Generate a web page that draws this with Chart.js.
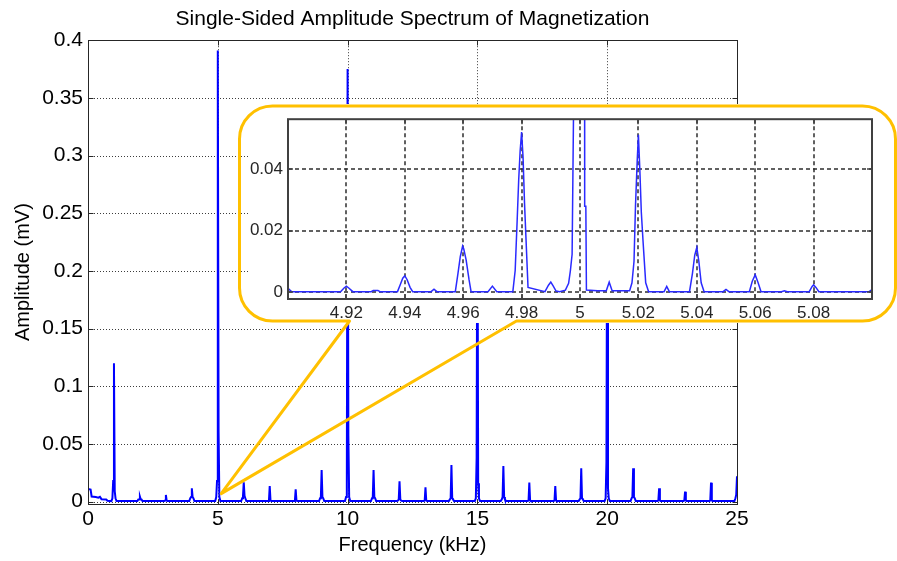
<!DOCTYPE html>
<html><head><meta charset="utf-8">
<script src="https://cdn.jsdelivr.net/npm/chart.js@4/dist/chart.umd.min.js"></script>
<style>
html,body{margin:0;padding:0;background:#fff;}
#wrap{position:relative;width:897px;height:561px;overflow:hidden;}
#main{position:absolute;left:0;top:0;}
#inset{position:absolute;left:240px;top:104px;}
</style></head><body>
<div id="wrap">
<canvas id="main" width="897" height="561"></canvas>
<canvas id="inset" width="657" height="218"></canvas>
</div>
<script>
// ---------- DATA ----------
const TITLE = 'Single-Sided Amplitude Spectrum of Magnetization';
const X_LABEL = 'Frequency (kHz)';
const Y_LABEL = 'Amplitude (mV)';

const xTicks = [0, 5, 10, 15, 20, 25];
const yTicks = [0, 0.05, 0.1, 0.15, 0.2, 0.25, 0.3, 0.35, 0.4];

// low-frequency part of spectrum (kHz, mV)
const lowFreq = [0, 0.1, 0.14, 0.3, 0.4, 0.46, 0.52, 0.7, 0.75, 0.9];
const lowAmp  = [0.011, 0.0105, 0.0045, 0.004, 0.0035, 0.0042, 0.0022, 0.002, 0.0008, 0.0005];

// harmonic peaks (kHz, mV)
const peakFreq  = [1, 2, 3, 4, 5, 6, 7, 8, 9, 10, 11, 12, 13, 14, 15, 16, 17, 18, 19, 20, 21, 22, 23, 24, 25];
const peakAmp   = [0.120, 0.0043, 0.0058, 0.0116, 0.391, 0.0168, 0.0136, 0.0107, 0.0275, 0.375, 0.0275, 0.0177, 0.0125, 0.0318, 0.300, 0.0310, 0.0165, 0.0136, 0.0290, 0.280, 0.0290, 0.0116, 0.0087, 0.0165, 0.0220];
const shoulderL = [0.018, 0.002, 0.001, 0.004, 0.018, 0.005, 0.001, 0.001, 0.004, 0.016, 0.004, 0.002, 0.001, 0.003, 0.038, 0.004, 0.001, 0.001, 0.003, 0.034, 0.004, 0.001, 0.001, 0.001, 0.006];
const shoulderR = [0.009, 0.002, 0.001, 0.004, 0.061, 0.005, 0.001, 0.001, 0.004, 0.057, 0.004, 0.002, 0.001, 0.003, 0.016, 0.004, 0.001, 0.001, 0.003, 0.012, 0.004, 0.001, 0.001, 0.001, 0.017];
const skirt     = [0.003, 0.002, 0.0005, 0.003, 0.004, 0.003, 0.0005, 0.0005, 0.003, 0.004, 0.003, 0.001, 0.0005, 0.002, 0.003, 0.002, 0.0005, 0.0005, 0.002, 0.003, 0.003, 0.0005, 0.0005, 0.0005, 0.003];
const baseLevel = 0.0005;

// zoomed inset around 5 kHz
const insetXTicks = [4.92, 4.94, 4.96, 4.98, 5.00, 5.02, 5.04, 5.06, 5.08];
const insetYTicks = [0, 0.02, 0.04];
const insetFreq = [
  4.9000, 4.9012,
  4.9180, 4.9192, 4.9200, 4.9208, 4.9222,
  4.9285, 4.9292, 4.9308, 4.9315,
  4.9375, 4.9385, 4.9393, 4.9400, 4.9408, 4.9418, 4.9427,
  4.9490, 4.9500, 4.9510,
  4.9573, 4.9582, 4.9590, 4.9598, 4.9602, 4.9610, 4.9620, 4.9627,
  4.9685, 4.9700, 4.9715,
  4.9770, 4.9778, 4.9785, 4.9790, 4.9795, 4.9800, 4.9805, 4.9810, 4.9815, 4.9822,
  4.9880, 4.9892, 4.9900, 4.9908, 4.9918,
  4.9930, 4.9950, 4.9961, 4.9967, 4.9973, 4.9978, 5.0000, 5.0015, 5.0016, 5.0020, 5.0022,
  5.0060, 5.0090, 5.0100, 5.0110,
  5.0170, 5.0178, 5.0185, 5.0190, 5.0196, 5.0200, 5.0205, 5.0210, 5.0216, 5.0225, 5.0235,
  5.0288, 5.0297, 5.0306,
  5.0375, 5.0385, 5.0393, 5.0400, 5.0407, 5.0415, 5.0425,
  5.0490, 5.0500, 5.0510,
  5.0580, 5.0590, 5.0600, 5.0610, 5.0620,
  5.0690, 5.0700, 5.0710,
  5.0785, 5.0795, 5.0800, 5.0808, 5.0818,
  5.0990, 5.1000];
const insetAmp = [
  0.0012, 0.0001,
  0.0001, 0.0013, 0.0019, 0.0013, 0.0001,
  0.0001, 0.0005, 0.0005, 0.0001,
  0.0001, 0.0025, 0.0045, 0.0053, 0.0040, 0.0015, 0.0001,
  0.0001, 0.0009, 0.0001,
  0.0001, 0.0060, 0.0115, 0.0150, 0.0140, 0.0105, 0.0040, 0.0001,
  0.0001, 0.0019, 0.0001,
  0.0001, 0.0070, 0.0238, 0.0365, 0.0460, 0.0522, 0.0440, 0.0290, 0.0175, 0.0015,
  0.0001, 0.0022, 0.0032, 0.0020, 0.0003,
  0.0001, 0.0006, 0.0028, 0.0069, 0.0123, 0.0600, 0.3910, 0.2000, 0.0280, 0.0280, 0.0006,
  0.0004, 0.0004, 0.0032, 0.0004,
  0.0004, 0.0030, 0.0100, 0.0280, 0.0430, 0.0513, 0.0397, 0.0260, 0.0164, 0.0030, 0.0001,
  0.0001, 0.0018, 0.0001,
  0.0001, 0.0060, 0.0120, 0.0145, 0.0100, 0.0030, 0.0001,
  0.0001, 0.0008, 0.0001,
  0.0001, 0.0035, 0.0056, 0.0030, 0.0001,
  0.0001, 0.0004, 0.0001,
  0.0001, 0.0018, 0.0023, 0.0015, 0.0001,
  0.0001, 0.0008];

// ---------- BUILD TABLES ----------
const mainPts = [];
for (let i = 0; i < lowFreq.length; i++) mainPts.push({x: lowFreq[i], y: lowAmp[i]});
for (let i = 0; i < peakFreq.length; i++) {
  const f = peakFreq[i];
  mainPts.push(
    {x: f - 0.1, y: baseLevel}, {x: f - 0.06, y: skirt[i]}, {x: f - 0.03, y: shoulderL[i]},
    {x: f, y: peakAmp[i]},
    {x: f + 0.03, y: shoulderR[i]}, {x: f + 0.06, y: skirt[i]}, {x: f + 0.1, y: baseLevel});
}
const insetPts = insetFreq.map((f, i) => ({x: f, y: insetAmp[i]}));

// ---------- STYLE ----------
const FONT = "'Liberation Sans', Arial, Helvetica, sans-serif";
const fmt = v => String(+Number(v).toFixed(3));

function line(ctx, x1, y1, x2, y2) { ctx.beginPath(); ctx.moveTo(x1, y1); ctx.lineTo(x2, y2); ctx.stroke(); }

const mainDeco = {
  id: 'mainDeco',
  beforeDatasetsDraw(c) {
    const {ctx, chartArea: a, scales: {x, y}} = c;
    ctx.save();
    ctx.strokeStyle = '#3c3c3c'; ctx.lineWidth = 1; ctx.setLineDash([1, 2]);
    xTicks.forEach(v => { if (v === 0 || v === 25) return; const p = Math.round(x.getPixelForValue(v)) + 0.5; line(ctx, p, a.top, p, a.bottom); });
    yTicks.forEach(v => { if (v === 0.4) return; const p = Math.round(y.getPixelForValue(v)) + 0.5; line(ctx, a.left, p, a.right, p); });
    ctx.restore();
  },
  afterDatasetsDraw(c) {
    const {ctx, chartArea: a, scales: {x, y}} = c;
    ctx.save();
    ctx.strokeStyle = '#262626'; ctx.lineWidth = 1; ctx.setLineDash([]);
    const L = Math.round(a.left) + 0.5, R = Math.round(a.right) + 0.5, T = Math.round(a.top) + 0.5, B = Math.round(a.bottom) + 0.5;
    ctx.strokeRect(L, T, R - L, B - T);
    const tl = 5;
    xTicks.forEach(v => { const p = Math.round(x.getPixelForValue(v)) + 0.5; line(ctx, p, B, p, B - tl); line(ctx, p, T, p, T + tl); });
    yTicks.forEach(v => { const p = Math.round(y.getPixelForValue(v)) + 0.5; line(ctx, L, p, L + tl, p); line(ctx, R, p, R - tl, p); });
    ctx.restore();
  },
  afterDraw(c) {
    const {ctx, scales: {x, y}} = c;
    ctx.save();
    ctx.fillStyle = '#ffffff';
    ctx.fillRect(250, 104, 647, 219);
    const tipX = x.getPixelForValue(5.13), tipY = y.getPixelForValue(0.007);
    const L = 239.5, T = 106, R = 895.5, B = 321, r = 33;
    ctx.strokeStyle = '#FFC000'; ctx.lineWidth = 3; ctx.lineJoin = 'round'; ctx.lineCap = 'round';
    ctx.beginPath();
    ctx.moveTo(349.5, B);
    ctx.lineTo(tipX, tipY);
    ctx.lineTo(516.5, B);
    ctx.lineTo(R - r, B);
    ctx.arcTo(R, B, R, B - r, r);
    ctx.lineTo(R, T + r);
    ctx.arcTo(R, T, R - r, T, r);
    ctx.lineTo(L + r, T);
    ctx.arcTo(L, T, L, T + r, r);
    ctx.lineTo(L, B - r);
    ctx.arcTo(L, B, L + r, B, r);
    ctx.closePath();
    ctx.stroke();
    ctx.restore();
  }
};

const insetDeco = {
  id: 'insetDeco',
  beforeDatasetsDraw(c) {
    const {ctx, chartArea: a, scales: {x, y}} = c;
    ctx.save();
    ctx.strokeStyle = '#2e2e2e'; ctx.lineWidth = 1.5; ctx.setLineDash([4, 3]);
    insetXTicks.forEach(v => { const p = Math.round(x.getPixelForValue(v)); line(ctx, p, a.top, p, a.bottom); });
    insetYTicks.forEach(v => { const p = Math.round(y.getPixelForValue(v)); line(ctx, a.left, p, a.right, p); });
    ctx.restore();
  },
  afterDatasetsDraw(c) {
    const {ctx, chartArea: a, scales: {x, y}} = c;
    ctx.save();
    ctx.strokeStyle = '#404040'; ctx.lineWidth = 2; ctx.setLineDash([]);
    ctx.strokeRect(a.left, a.top, a.right - a.left, a.bottom - a.top);
    ctx.lineWidth = 1.5;
    const tl = 5;
    insetXTicks.forEach(v => { const p = Math.round(x.getPixelForValue(v)); line(ctx, p, a.bottom, p, a.bottom - tl); line(ctx, p, a.top, p, a.top + tl); });
    insetYTicks.forEach(v => { const p = Math.round(y.getPixelForValue(v)); line(ctx, a.left, p, a.left + tl, p); line(ctx, a.right, p, a.right - tl, p); });
    ctx.restore();
  }
};

// ---------- MAIN CHART ----------
new Chart(document.getElementById('main'), {
  type: 'line',
  data: {datasets: [{data: mainPts, borderColor: '#0000ff', borderWidth: 2, pointRadius: 0, tension: 0, fill: false, clip: 0}]},
  options: {
    responsive: false, animation: false, devicePixelRatio: 1,
    layout: {padding: {left: 0, right: 160, top: 0, bottom: 0}},
    plugins: {
      legend: {display: false}, tooltip: {enabled: false},
      title: {display: true, text: TITLE, fullSize: false, color: '#000', font: {family: FONT, size: 21, weight: 'normal'}, padding: {top: 7, bottom: 8}}
    },
    scales: {
      x: {
        type: 'linear', min: 0, max: 25,
        afterBuildTicks: s => { s.ticks = xTicks.map(v => ({value: v})); },
        afterFit: s => { s.height = 57; },
        ticks: {color: '#000', font: {family: FONT, size: 21}, padding: 3, maxRotation: 0, autoSkip: false, callback: fmt},
        grid: {display: false, drawTicks: false}, border: {display: false},
        title: {display: true, text: X_LABEL, color: '#000', font: {family: FONT, size: 20}, padding: {top: 0, bottom: 4}}
      },
      y: {
        type: 'linear', min: -0.002, max: 0.4,
        afterBuildTicks: s => { s.ticks = yTicks.map(v => ({value: v})); },
        afterFit: s => { s.width = 88; },
        ticks: {color: '#000', font: {family: FONT, size: 21}, padding: 5, autoSkip: false, callback: fmt},
        grid: {display: false, drawTicks: false}, border: {display: false},
        title: {display: true, text: Y_LABEL, color: '#000', font: {family: FONT, size: 20}, padding: {top: 11, bottom: 0}}
      }
    }
  },
  plugins: [mainDeco]
});

// ---------- INSET CHART ----------
new Chart(document.getElementById('inset'), {
  type: 'line',
  data: {datasets: [{data: insetPts, borderColor: '#2a2aff', borderWidth: 1.5, pointRadius: 0, tension: 0, fill: false, clip: 0}]},
  options: {
    responsive: false, animation: false, devicePixelRatio: 1,
    layout: {padding: {left: 0, right: 25, top: 10, bottom: 0}},
    plugins: {legend: {display: false}, tooltip: {enabled: false}, title: {display: false}},
    scales: {
      x: {
        type: 'linear', min: 4.9, max: 5.1,
        afterBuildTicks: s => { s.ticks = insetXTicks.map(v => ({value: v})); },
        afterFit: s => { s.height = 23; },
        ticks: {color: '#262626', font: {family: FONT, size: 17}, padding: 4, maxRotation: 0, autoSkip: false, callback: fmt},
        grid: {display: false, drawTicks: false}, border: {display: false}
      },
      y: {
        type: 'linear', min: -0.0023, max: 0.0564,
        afterBuildTicks: s => { s.ticks = insetYTicks.map(v => ({value: v})); },
        afterFit: s => { s.width = 48; },
        ticks: {color: '#262626', font: {family: FONT, size: 17}, padding: 5, autoSkip: false, callback: fmt},
        grid: {display: false, drawTicks: false}, border: {display: false}
      }
    }
  },
  plugins: [insetDeco]
});
</script>
</body></html>
